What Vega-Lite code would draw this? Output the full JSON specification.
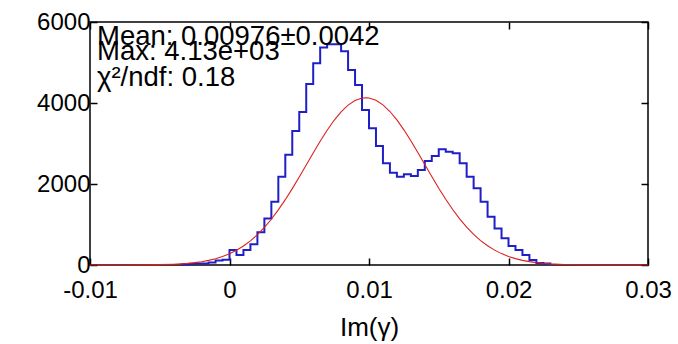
{
  "$schema": "https://vega.github.io/schema/vega-lite/v6.json",
  "width": 558,
  "height": 243,
  "autosize": {"type": "none"},
  "padding": {"left": 90, "top": 22, "right": 30, "bottom": 79},
  "background": "white",
  "config": {
    "view": {"stroke": "black", "strokeWidth": 1.5},
    "axis": {"grid": false, "domain": false, "tickColor": "black", "tickWidth": 1.5, "labelColor": "black", "titleColor": "black", "labelFont": "Liberation Sans", "titleFont": "Liberation Sans", "labelFontSize": 24, "titleFontSize": 26, "titleFontWeight": "normal"}
  },
  "datasets": {
    "hist": [
      {"x": -0.0035, "count": 15}, {"x": -0.003, "count": 25}, {"x": -0.0025, "count": 35}, {"x": -0.002, "count": 40},
      {"x": -0.0015, "count": 60}, {"x": -0.001, "count": 110}, {"x": -0.0005, "count": 130}, {"x": 0, "count": 370},
      {"x": 0.0005, "count": 247}, {"x": 0.001, "count": 370}, {"x": 0.0015, "count": 510}, {"x": 0.002, "count": 810},
      {"x": 0.0025, "count": 1150}, {"x": 0.003, "count": 1560}, {"x": 0.0035, "count": 2180}, {"x": 0.004, "count": 2720},
      {"x": 0.0045, "count": 3310}, {"x": 0.005, "count": 3780}, {"x": 0.0055, "count": 4470}, {"x": 0.006, "count": 4980},
      {"x": 0.0065, "count": 5370}, {"x": 0.007, "count": 5450}, {"x": 0.0075, "count": 5450}, {"x": 0.008, "count": 5280},
      {"x": 0.0085, "count": 4815}, {"x": 0.009, "count": 4444}, {"x": 0.0095, "count": 3827}, {"x": 0.01, "count": 3375},
      {"x": 0.0105, "count": 2940}, {"x": 0.011, "count": 2510}, {"x": 0.0115, "count": 2280}, {"x": 0.012, "count": 2181},
      {"x": 0.0125, "count": 2239}, {"x": 0.013, "count": 2200}, {"x": 0.0135, "count": 2346}, {"x": 0.014, "count": 2568},
      {"x": 0.0145, "count": 2691}, {"x": 0.015, "count": 2856}, {"x": 0.0155, "count": 2798}, {"x": 0.016, "count": 2757},
      {"x": 0.0165, "count": 2510}, {"x": 0.017, "count": 2181}, {"x": 0.0175, "count": 1893}, {"x": 0.018, "count": 1564},
      {"x": 0.0185, "count": 1193}, {"x": 0.019, "count": 900}, {"x": 0.0195, "count": 658}, {"x": 0.02, "count": 469},
      {"x": 0.0205, "count": 370}, {"x": 0.021, "count": 247}, {"x": 0.0215, "count": 123}, {"x": 0.022, "count": 50},
      {"x": 0.0225, "count": 40}, {"x": 0.023, "count": 0}
    ],
    "fit": [
      {"x": -0.01, "y": 0}, {"x": -0.008, "y": 0.3}, {"x": -0.006, "y": 3.6}, {"x": -0.005, "y": 8.6}, {"x": -0.004, "y": 19.3},
      {"x": -0.0035, "y": 28.3}, {"x": -0.003, "y": 40.9}, {"x": -0.0025, "y": 58.3}, {"x": -0.002, "y": 81.9},
      {"x": -0.0015, "y": 113.6}, {"x": -0.001, "y": 155}, {"x": -0.0005, "y": 208.9}, {"x": 0, "y": 277.6},
      {"x": 0.0005, "y": 363.3}, {"x": 0.001, "y": 469}, {"x": 0.0015, "y": 597}, {"x": 0.002, "y": 749},
      {"x": 0.0025, "y": 927}, {"x": 0.003, "y": 1130}, {"x": 0.0035, "y": 1360}, {"x": 0.004, "y": 1613},
      {"x": 0.0045, "y": 1886}, {"x": 0.005, "y": 2173}, {"x": 0.0055, "y": 2470}, {"x": 0.006, "y": 2766},
      {"x": 0.0065, "y": 3056}, {"x": 0.007, "y": 3328}, {"x": 0.0075, "y": 3573}, {"x": 0.008, "y": 3783},
      {"x": 0.0085, "y": 3948}, {"x": 0.009, "y": 4063}, {"x": 0.0095, "y": 4122}, {"x": 0.00976, "y": 4130},
      {"x": 0.01, "y": 4123}, {"x": 0.0105, "y": 4066}, {"x": 0.011, "y": 3954}, {"x": 0.0115, "y": 3790},
      {"x": 0.012, "y": 3582}, {"x": 0.0125, "y": 3338}, {"x": 0.013, "y": 3067}, {"x": 0.0135, "y": 2778},
      {"x": 0.014, "y": 2481}, {"x": 0.0145, "y": 2185}, {"x": 0.015, "y": 1897}, {"x": 0.0155, "y": 1623},
      {"x": 0.016, "y": 1370}, {"x": 0.0165, "y": 1140}, {"x": 0.017, "y": 935}, {"x": 0.0175, "y": 756},
      {"x": 0.018, "y": 603}, {"x": 0.0185, "y": 474}, {"x": 0.019, "y": 367}, {"x": 0.0195, "y": 281},
      {"x": 0.02, "y": 211}, {"x": 0.0205, "y": 157}, {"x": 0.021, "y": 115}, {"x": 0.0215, "y": 83},
      {"x": 0.022, "y": 59}, {"x": 0.0225, "y": 41.5}, {"x": 0.023, "y": 28.7}, {"x": 0.024, "y": 13.2},
      {"x": 0.025, "y": 5.7}, {"x": 0.027, "y": 1}, {"x": 0.03, "y": 0}
    ],
    "stats": [
      {"x": -0.0095, "y": 5430, "label": "Mean: 0.00976±0.0042"},
      {"x": -0.0095, "y": 5060, "label": "Max: 4.13e+03"},
      {"x": -0.0095, "y": 4420, "label": "χ²/ndf: 0.18"}
    ]
  },
  "resolve": {"axis": {"x": "independent", "y": "independent"}},
  "layer": [
    {
      "data": {"name": "hist"},
      "mark": {"type": "line", "interpolate": "step-after", "color": "#1f1fc8", "strokeWidth": 2},
      "encoding": {
        "x": {"field": "x", "type": "quantitative", "scale": {"domain": [-0.01, 0.03], "nice": false, "zero": false},
              "axis": {"orient": "bottom", "values": [-0.01, 0, 0.01, 0.02, 0.03], "labelExpr": "'' + datum.value", "tickSize": -7, "labelPadding": 20, "title": "Im(γ)", "titlePadding": 12, "labelFlush": false}},
        "y": {"field": "count", "type": "quantitative", "scale": {"domain": [0, 6000], "nice": false},
              "axis": {"orient": "left", "values": [0, 2000, 4000, 6000], "format": "d", "tickSize": -7, "labelPadding": 7, "title": null, "labelFlush": false}}
      }
    },
    {
      "data": {"name": "fit"},
      "mark": {"type": "line", "color": "#dd2020", "strokeWidth": 1.1},
      "encoding": {
        "x": {"field": "x", "type": "quantitative", "axis": {"orient": "top", "values": [-0.01, 0, 0.01, 0.02, 0.03], "tickSize": -7, "labels": false, "title": null}},
        "y": {"field": "y", "type": "quantitative", "axis": {"orient": "right", "values": [0, 2000, 4000, 6000], "tickSize": -7, "labels": false, "title": null}}
      }
    },
    {
      "data": {"name": "stats"},
      "mark": {"type": "text", "align": "left", "baseline": "alphabetic", "font": "Liberation Sans", "fontSize": 27.5, "color": "black"},
      "encoding": {
        "x": {"field": "x", "type": "quantitative", "axis": null},
        "y": {"field": "y", "type": "quantitative", "axis": null},
        "text": {"field": "label"}
      }
    }
  ]
}
